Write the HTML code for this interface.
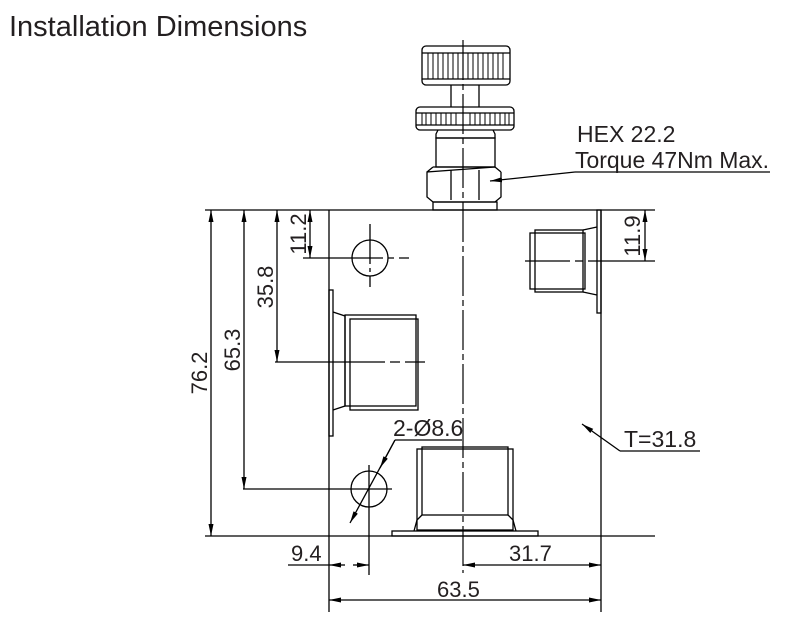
<!DOCTYPE html>
<html><head><style>
body{margin:0;background:#fff}
svg{display:block}
text{font-family:"Liberation Sans",sans-serif;fill:#231f20}
</style></head><body>
<svg width="810" height="636" viewBox="0 0 810 636" xmlns="http://www.w3.org/2000/svg">
<defs>
<marker id="a" viewBox="0 0 12 6" refX="12" refY="3" markerWidth="12" markerHeight="6" orient="auto-start-reverse" markerUnits="userSpaceOnUse"><path d="M0,0.5 L12,3 L0,5.5z" fill="#000"/></marker>
</defs>
<text x="9" y="36" font-size="29">Installation Dimensions</text>
<g stroke="#000" stroke-width="1.3" fill="none">
<rect x="422" y="46" width="88" height="39" rx="4"/>
<line x1="422" y1="53" x2="510" y2="53"/><line x1="422" y1="79" x2="510" y2="79"/>
<g stroke-width="1">
<path d="M428 53v26M433 53v26M438 53v26M443 53v26M448 53v26M453 53v26M458 53v26M468 53v26M473 53v26M478 53v26M483 53v26M488 53v26M493 53v26M498 53v26M503 53v26"/>
<path d="M422 113v12M426 113v12M431 113v12M436 113v12M441 113v12M446 113v12M451 113v12M456 113v12M470 113v12M475 113v12M480 113v12M485 113v12M490 113v12M495 113v12M500 113v12M505 113v12M509 113v12"/>
</g>
<line x1="451" y1="85" x2="451" y2="107"/><line x1="479" y1="85" x2="479" y2="107"/>
<rect x="416" y="107" width="98" height="23" rx="4"/>
<line x1="416" y1="113" x2="514" y2="113"/><line x1="416" y1="125" x2="514" y2="125"/>
<path d="M438 130 L436 134 L436 138 L495 138 L495 134 L493 130"/>
<rect x="436" y="138" width="59" height="29"/>
<path d="M433 167 L495 167 M427 172 L433 167 M501 172 L495 167 L427 172 L427 197 L433 202 L495 202 L501 197 L501 172"/>
<line x1="451" y1="170" x2="451" y2="200"/><line x1="479" y1="170" x2="479" y2="200"/>
<rect x="433" y="202" width="64" height="8"/>
<line x1="205" y1="210" x2="655" y2="210"/>
<line x1="205" y1="536" x2="655" y2="536"/>
<line x1="329" y1="210" x2="329" y2="612"/>
<line x1="601" y1="210" x2="601" y2="612"/>
<rect x="329" y="290" width="4" height="146"/>
<path d="M333 312 L345 316 L345 406 L333 410"/>
<rect x="345" y="315" width="71" height="91"/>
<rect x="350" y="319" width="68" height="91"/>
<rect x="417" y="449" width="96" height="81"/>
<rect x="422" y="447" width="86" height="68"/>
<path d="M422 515 L417 520 L414 531 M508 515 L513 520 L516 531"/>
<rect x="392" y="531" width="146" height="5"/>
<rect x="597" y="210" width="4" height="103"/>
<rect x="530" y="233" width="55" height="56"/>
<rect x="535" y="230" width="48" height="62"/>
<path d="M583 230 L597 227 M583 292 L597 295"/>
<circle cx="370" cy="258" r="18"/>
<circle cx="369" cy="489" r="18"/>
<line x1="370" y1="224" x2="370" y2="287" stroke-dasharray="40 4 4 4"/>
<line x1="303" y1="258" x2="410" y2="258" stroke-dasharray="80 5 6 5 10"/>
<line x1="243" y1="489" x2="392" y2="489"/>
<line x1="369" y1="465" x2="369" y2="575"/>
<line x1="275" y1="362" x2="432" y2="362" stroke-dasharray="110 5 10 5 20"/>
<line x1="525" y1="261" x2="655" y2="261" stroke-dasharray="45 5 8 5 80"/>
<line x1="463" y1="40" x2="463" y2="573" stroke-dasharray="40 4 6 4" stroke-width="1.2"/>
<line x1="211" y1="210" x2="211" y2="536" marker-start="url(#a)" marker-end="url(#a)"/>
<line x1="244" y1="210" x2="244" y2="489" marker-start="url(#a)" marker-end="url(#a)"/>
<line x1="277" y1="210" x2="277" y2="362" marker-start="url(#a)" marker-end="url(#a)"/>
<line x1="310" y1="210" x2="310" y2="258" marker-start="url(#a)" marker-end="url(#a)"/>
<line x1="645" y1="210" x2="645" y2="261" marker-start="url(#a)" marker-end="url(#a)"/>
<line x1="288" y1="565" x2="329" y2="565"/>
<line x1="329" y1="565" x2="345" y2="565" marker-start="url(#a)"/>
<line x1="353" y1="565" x2="369" y2="565" marker-end="url(#a)"/>
<line x1="463" y1="565" x2="601" y2="565" marker-start="url(#a)" marker-end="url(#a)"/>
<line x1="329" y1="600" x2="601" y2="600" marker-start="url(#a)" marker-end="url(#a)"/>
<line x1="395" y1="440" x2="462" y2="440"/>
<line x1="395" y1="440" x2="350" y2="523" marker-end="url(#a)"/>
<line x1="380" y1="468" x2="395" y2="440" marker-start="url(#a)"/>
<line x1="620" y1="451" x2="700" y2="451"/>
<line x1="620" y1="451" x2="582" y2="424" marker-end="url(#a)"/>
<line x1="575" y1="172" x2="770" y2="172"/>
<line x1="575" y1="172" x2="490" y2="181" marker-end="url(#a)"/>
</g>
<g font-size="23">
<text x="577" y="142">HEX 22.2</text>
<text x="575" y="168" textLength="194" lengthAdjust="spacingAndGlyphs">Torque 47Nm Max.</text>
<text x="624" y="447">T=31.8</text>
<text x="393" y="436">2-Ø8.6</text>
</g>
<g font-size="22">
<text x="291" y="561">9.4</text>
<text x="509" y="561">31.7</text>
<text x="437" y="597">63.5</text>
<text transform="translate(207,373) rotate(-90)" text-anchor="middle">76.2</text>
<text transform="translate(240,350) rotate(-90)" text-anchor="middle">65.3</text>
<text transform="translate(273,287) rotate(-90)" text-anchor="middle">35.8</text>
<text transform="translate(306,234) rotate(-90)" text-anchor="middle">11.2</text>
<text transform="translate(640,236) rotate(-90)" text-anchor="middle">11.9</text>
</g>
</svg>
</body></html>
